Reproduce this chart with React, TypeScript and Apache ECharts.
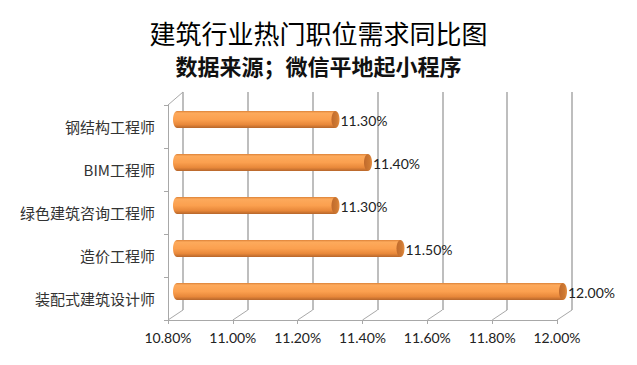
import React, { useEffect, useRef } from "react";
import * as echarts from "echarts";

const titleText = "建筑行业热门职位需求同比图";
const subtitleText = "数据来源；微信平地起小程序";
const categories = ["钢结构工程师", "BIM工程师", "绿色建筑咨询工程师", "造价工程师", "装配式建筑设计师"];
const values = [11.3, 11.4, 11.3, 11.5, 12.0];
const axisMin = 10.8;
const axisMax = 12.0;
const axisStep = 0.2;
const tickValues = [10.8, 11.0, 11.2, 11.4, 11.6, 11.8, 12.0];

const fmt = (v: number) => Number(v).toFixed(2) + "%";

export default function App() {
  const ref = useRef<HTMLDivElement>(null);
  useEffect(() => {
    if (!ref.current) return;
    const chart = echarts.init(ref.current, undefined, { renderer: "svg" });
    const barGrad = new echarts.graphic.LinearGradient(0, 0, 0, 1, [
      { offset: 0, color: "#dc8238" },
      { offset: 0.12, color: "#fdaa5c" },
      { offset: 0.5, color: "#fba04f" },
      { offset: 0.8, color: "#e8883a" },
      { offset: 1, color: "#b6662b" },
    ]);
    const capGrad = new echarts.graphic.LinearGradient(0, 0, 1, 0, [
      { offset: 0, color: "#c06a2c" },
      { offset: 0.7, color: "#cf7a33" },
      { offset: 1, color: "#e79044" },
    ]);
    const option: any = {
      animation: false,
      backgroundColor: "#ffffff",
      title: [
        {
          text: titleText,
          left: "center",
          top: 14,
          textStyle: { fontFamily: "Noto Sans CJK SC", fontSize: 26, fontWeight: "normal", color: "#000" },
        },
        {
          text: subtitleText,
          left: "center",
          top: 49,
          textStyle: { fontFamily: "Noto Sans CJK SC", fontSize: 22, fontWeight: "bold", color: "#111" },
        },
      ],
      grid: [
        { left: 183, top: 92, width: 389, height: 218, containLabel: false },
        { left: 168, top: 105, width: 389, height: 215, containLabel: false },
        { left: 173, top: 98, width: 390, height: 215, containLabel: false },
      ],
      xAxis: [
        {
          gridIndex: 0, type: "value", min: axisMin, max: axisMax, interval: axisStep,
          axisLine: { show: false }, axisTick: { show: false }, axisLabel: { show: false },
          splitLine: { show: true, lineStyle: { color: "#a8a8a8", width: 1.5 } },
        },
        {
          gridIndex: 1, type: "value", min: axisMin, max: axisMax, interval: axisStep,
          axisLine: { show: true, lineStyle: { color: "#a8a8a8", width: 1 } },
          axisTick: { show: true, length: 4, lineStyle: { color: "#a8a8a8" } },
          splitLine: { show: false },
          axisLabel: {
            show: true, formatter: (v: number) => fmt(v), margin: 10,
            fontFamily: "Lato", fontSize: 14, color: "#222",
          },
        },
        {
          gridIndex: 2, type: "value", min: axisMin, max: axisMax, interval: axisStep,
          show: false,
        },
      ],
      yAxis: [
        { gridIndex: 0, type: "category", data: categories, inverse: true, show: false },
        {
          gridIndex: 1, type: "category", data: categories, inverse: true,
          axisLine: { show: true, lineStyle: { color: "#a8a8a8", width: 1 } },
          axisTick: { show: true, length: 4, lineStyle: { color: "#a8a8a8" } },
          axisLabel: { fontFamily: "Noto Sans CJK SC", fontSize: 15, color: "#333", margin: 13 },
        },
        { gridIndex: 2, type: "category", data: categories, inverse: true, show: false },
      ],
      series: [
        {
          type: "custom",
          xAxisIndex: 1,
          yAxisIndex: 1,
          data: tickValues.map((v) => [v, 0]),
          silent: true,
          renderItem: (params: any, api: any) => {
            const cs = params.coordSys;
            const x = api.coord([api.value(0), 0])[0];
            const yb = cs.y + cs.height;
            const children: any[] = [
              {
                type: "line",
                shape: { x1: x, y1: yb, x2: x + 15, y2: yb - 10 },
                style: { stroke: "#a8a8a8", lineWidth: 1 },
              },
            ];
            if (params.dataIndex === 0) {
              children.push({
                type: "line",
                shape: { x1: cs.x, y1: cs.y, x2: cs.x + 15, y2: cs.y - 13 },
                style: { stroke: "#a8a8a8", lineWidth: 1 },
              });
            }
            return { type: "group", children };
          },
        },
        {
          type: "custom",
          xAxisIndex: 2,
          yAxisIndex: 2,
          data: values.map((v, i) => [v, i]),
          renderItem: (params: any, api: any) => {
            const idx = api.value(1);
            const start = api.coord([axisMin, idx]);
            const end = api.coord([api.value(0), idx]);
            const h = 17;
            const cy = end[1];
            const rx = 4;
            const x0 = start[0] + 4;
            return {
              type: "group",
              children: [
                {
                  type: "ellipse",
                  shape: { cx: x0, cy, rx, ry: h / 2 },
                  style: { fill: barGrad },
                },
                {
                  type: "rect",
                  shape: { x: x0, y: cy - h / 2, width: end[0] - x0, height: h },
                  style: { fill: barGrad },
                },
                {
                  type: "ellipse",
                  shape: { cx: end[0], cy, rx, ry: h / 2 },
                  style: { fill: capGrad },
                },
                {
                  type: "text",
                  x: end[0] + 5,
                  y: cy + 1,
                  style: {
                    text: fmt(api.value(0)),
                    fontFamily: "Lato",
                    fontSize: 14,
                    fill: "#222",
                    verticalAlign: "middle",
                    align: "left",
                  },
                },
              ],
            };
          },
        },
      ],
    };
    chart.setOption(option);
    return () => chart.dispose();
  }, []);
  return (
    <div
      ref={ref}
      style={{ position: "fixed", left: 0, top: 0, width: 637, height: 365, background: "#fff" }}
    />
  );
}
